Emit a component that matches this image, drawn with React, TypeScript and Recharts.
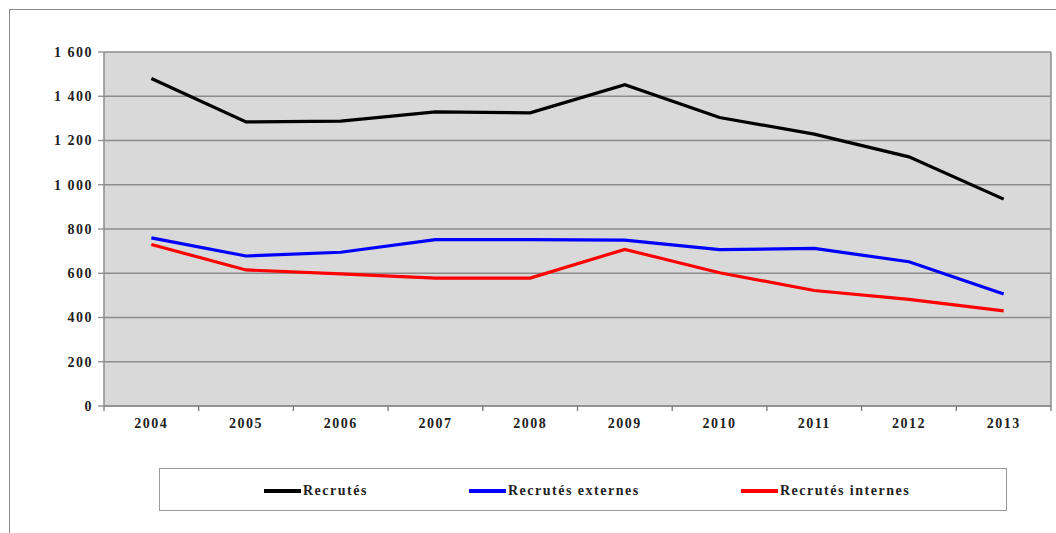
import React from 'react';
import { LineChart, Line, XAxis, YAxis, CartesianGrid } from 'recharts';

const years = ['2004', '2005', '2006', '2007', '2008', '2009', '2010', '2011', '2012', '2013'];
const recrutes = [1480, 1284, 1288, 1329, 1325, 1452, 1304, 1229, 1126, 935];
const recrutesExternes = [760, 678, 695, 752, 752, 750, 707, 712, 652, 506];
const recrutesInternes = [730, 615, 597, 578, 578, 708, 602, 522, 482, 430];
const yTicks = [0, 200, 400, 600, 800, 1000, 1200, 1400, 1600];

const chartData = years.map((year, i) => ({
  year,
  recrutes: recrutes[i],
  externes: recrutesExternes[i],
  internes: recrutesInternes[i],
}));

const FONT = '"Liberation Serif", "Times New Roman", serif';
const W = 1056;
const H = 533;
const PLOT_LEFT = 104;
const PLOT_RIGHT = 1051;
const HALF_BAND = (PLOT_RIGHT - PLOT_LEFT) / years.length / 2;

const fmt = (v: number) => String(v).replace(/\B(?=(\d{3})+(?!\d))/g, ' ');

const XTick = (props: any) => {
  const { x, y, payload, index } = props;
  const axisY = y - 7;
  const i = index ?? payload.index;
  return (
    <g>
      <line x1={x - HALF_BAND} y1={axisY} x2={x - HALF_BAND} y2={axisY + 5} stroke="#777" strokeWidth={1.3} />
      {i === years.length - 1 && (
        <line x1={x + HALF_BAND} y1={axisY} x2={x + HALF_BAND} y2={axisY + 5} stroke="#777" strokeWidth={1.3} />
      )}
      <text
        x={x}
        y={axisY + 22}
        textAnchor="middle"
        fontFamily={FONT}
        fontWeight="bold"
        fontSize={14}
        letterSpacing={1.5}
        fill="#222"
      >
        {payload.value}
      </text>
    </g>
  );
};

const legendItems = [
  { label: 'Recrutés', color: '#000000', left: 104 },
  { label: 'Recrutés externes', color: '#0000ff', left: 309 },
  { label: 'Recrutés internes', color: '#ff0000', left: 581 },
];

const App: React.FC = () => {
  return (
    <div style={{ position: 'absolute', left: 0, top: 0, width: W, height: H, overflow: 'hidden', background: '#fff' }}>
      <div style={{ position: 'absolute', left: 9, top: 9, width: 1200, height: 700, border: '1.5px solid #8a8a8a' }} />
      <div style={{ position: 'absolute', left: 0, top: 0 }}>
        <LineChart width={W} height={H} data={chartData} margin={{ top: 52, right: 4, bottom: 97, left: 4 }}>
          <CartesianGrid vertical={false} fill="#d9d9d9" stroke="#8c8c8c" strokeWidth={1.5} />
          <XAxis
            dataKey="year"
            height={30}
            padding={{ left: HALF_BAND, right: HALF_BAND }}
            axisLine={{ stroke: '#8c8c8c', strokeWidth: 1.5 }}
            tickLine={false}
            tickSize={5}
            tickMargin={2}
            tick={<XTick />}
            interval={0}
          />
          <YAxis
            width={100}
            domain={[0, 1600]}
            ticks={yTicks}
            tickFormatter={fmt}
            axisLine={{ stroke: '#8c8c8c', strokeWidth: 1.5 }}
            tickLine={{ stroke: '#8c8c8c', strokeWidth: 1.3 }}
            tickSize={6}
            tickMargin={5}
            tick={{ fontFamily: FONT, fontWeight: 'bold', fontSize: 14, fill: '#222', letterSpacing: 1.5 }}
          />
          <YAxis
            yAxisId="right"
            orientation="right"
            width={1}
            domain={[0, 1600]}
            tick={false}
            tickLine={false}
            axisLine={{ stroke: '#8c8c8c', strokeWidth: 1.5 }}
          />
          <Line type="linear" dataKey="recrutes" stroke="#000000" strokeWidth={3.2} dot={false} isAnimationActive={false} />
          <Line type="linear" dataKey="externes" stroke="#0000ff" strokeWidth={3.2} dot={false} isAnimationActive={false} />
          <Line type="linear" dataKey="internes" stroke="#ff0000" strokeWidth={3.2} dot={false} isAnimationActive={false} />
        </LineChart>
      </div>
      <div
        style={{
          position: 'absolute',
          left: 159,
          top: 468,
          width: 848,
          height: 43,
          border: '1.5px solid #9a9a9a',
          boxSizing: 'border-box',
          background: '#fff',
        }}
      >
        {legendItems.map((item) => (
          <div
            key={item.label}
            style={{ position: 'absolute', left: item.left, top: 14, display: 'flex', alignItems: 'center', whiteSpace: 'nowrap' }}
          >
            <span style={{ display: 'inline-block', width: 37, height: 4, background: item.color, marginRight: 2 }} />
            <span style={{ fontFamily: FONT, fontWeight: 'bold', fontSize: 14, color: '#222', letterSpacing: 1.5 }}>{item.label}</span>
          </div>
        ))}
      </div>
    </div>
  );
};

export default App;
